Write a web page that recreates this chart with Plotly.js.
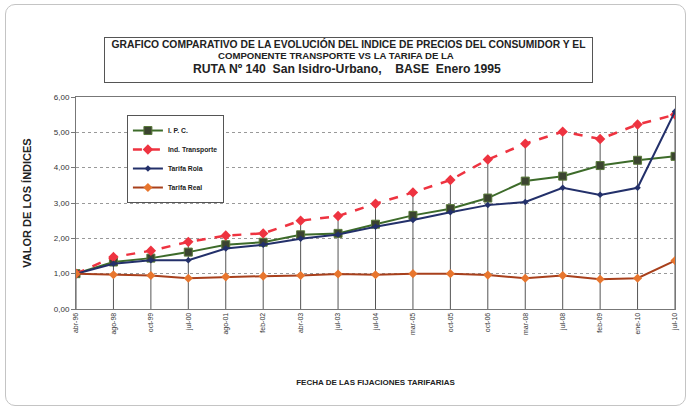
<!DOCTYPE html>
<html><head><meta charset="utf-8">
<script src="https://cdn.plot.ly/plotly-3.0.1.min.js"></script>
<style>
body{margin:0;background:#fff}
#wrap{position:relative;width:691px;height:411px}
#chart{width:691px;height:411px}
#frame{position:absolute;left:5px;top:4px;width:679px;height:400px;border:1px solid #c4c4c4;border-radius:10px;pointer-events:none}
#tbox{position:absolute;left:104px;top:37px;width:487px;height:44px;border:1px solid #555;pointer-events:none}
</style></head><body>
<div id="wrap"><div id="chart"></div><div id="frame"></div><div id="tbox"></div></div>
<script>
const fechas = ["abr-96","ago-98","oct-99","jul-00","ago-01","feb-02","abr-03","jul-03","jul-04","mar-05","oct-05","oct-06","mar-08","jul-08","feb-09","ene-10","jul-10"];
const ipc = [1.00,1.33,1.44,1.61,1.82,1.89,2.10,2.14,2.40,2.65,2.84,3.14,3.62,3.76,4.06,4.21,4.32];
const indTransporte = [1.00,1.47,1.65,1.90,2.08,2.14,2.50,2.63,2.98,3.30,3.65,4.23,4.68,5.02,4.81,5.22,5.50];
const tarifaRola = [1.00,1.28,1.38,1.38,1.71,1.82,1.99,2.11,2.33,2.52,2.74,2.94,3.03,3.43,3.23,3.43,5.59];
const tarifaReal = [1.00,0.97,0.95,0.87,0.91,0.93,0.95,0.99,0.97,1.00,1.00,0.96,0.87,0.95,0.84,0.87,1.37];
const yTicks = [0,1,2,3,4,5,6];
const titleLines = [
  "GRAFICO COMPARATIVO DE LA EVOLUCIÓN DEL INDICE DE PRECIOS DEL CONSUMIDOR Y EL",
  "COMPONENTE TRANSPORTE VS LA TARIFA DE LA",
  "RUTA Nº 140  San Isidro-Urbano,    BASE  Enero 1995"
];

// drop lines from axis to highest value of each date
const dx = [], dy = [];
fechas.forEach((f,i)=>{
  const m = Math.max(ipc[i], indTransporte[i], tarifaRola[i], tarifaReal[i]);
  dx.push(f,f,null); dy.push(0,m,null);
});

const font = "Liberation Sans, Arial, sans-serif";
const traces = [
  {x:dx,y:dy,mode:"lines",line:{color:"#555",width:1},showlegend:false,hoverinfo:"skip"},
  {x:fechas,y:ipc,name:"I. P. C.",mode:"lines+markers",line:{color:"#3d6b2a",width:2},
   marker:{symbol:"square",size:8,color:"#3b4430",line:{color:"#5a7a3a",width:1}}},
  {x:fechas,y:indTransporte,name:"Ind. Transporte",mode:"lines+markers",line:{color:"#ee3340",width:2.5,dash:"dash"},
   marker:{symbol:"diamond",size:8,color:"#ee3340"}},
  {x:fechas,y:tarifaRola,name:"Tarifa Rola",mode:"lines+markers",line:{color:"#23306a",width:2},
   marker:{symbol:"diamond",size:5,color:"#23306a"}},
  {x:fechas,y:tarifaReal,name:"Tarifa Real",mode:"lines+markers",line:{color:"#a8401c",width:2},
   marker:{symbol:"diamond",size:7,color:"#e8762e"}}
];

const layout = {
  width:691,height:411,
  margin:{l:76,r:16,t:97,b:102},
  paper_bgcolor:"#fff",plot_bgcolor:"#fff",
  separators:",.",
  font:{family:font,color:"#222"},
  title:{
    text:"<b>"+titleLines[0]+"</b>",
    font:{family:font,size:10.3,color:"#222"},
    x:0.455,xanchor:"center",xref:"paper",
    y:0.892,yanchor:"middle",yref:"container"
  },
  annotations:[
    {text:"<b>"+titleLines[1]+"</b>",xref:"paper",yref:"paper",x:0.434,y:1.198,xanchor:"center",yanchor:"middle",showarrow:false,borderpad:0,font:{family:font,size:9.6,color:"#222"}},
    {text:"<b>"+titleLines[2]+"</b>",xref:"paper",yref:"paper",x:0.453,y:1.132,xanchor:"center",yanchor:"middle",showarrow:false,borderpad:0,font:{family:font,size:12.2,color:"#222"}}
  ],
  xaxis:{
    type:"category",range:[0,16],
    showline:true,linecolor:"#777",linewidth:1,mirror:true,
    showgrid:false,ticks:"",tickangle:-90,
    tickfont:{size:7,color:"#333",family:font},
    title:{text:"<b>FECHA DE LAS FIJACIONES TARIFARIAS</b>",font:{size:8,color:"#222",family:font},standoff:45},
    automargin:false,fixedrange:true
  },
  yaxis:{
    range:[0,6],tickvals:yTicks,tickformat:".2f",
    showline:true,linecolor:"#777",linewidth:1,mirror:true,
    showgrid:true,gridcolor:"#999",griddash:"dot",gridwidth:1,
    ticks:"outside",ticklen:4,tickcolor:"#777",
    tickfont:{size:8,color:"#333",family:font},
    title:{text:"<b>VALOR DE LOS ÍNDICES</b>",font:{size:11,color:"#222",family:font},standoff:19},
    automargin:false,zeroline:false,fixedrange:true
  },
  legend:{
    x:0.085,y:0.915,xanchor:"left",yanchor:"top",
    bgcolor:"#fff",bordercolor:"#555",borderwidth:1,
    font:{size:6.8,family:font,color:"#222",weight:"bold"},
    itemwidth:30
  },
  showlegend:true
};
Plotly.newPlot("chart",traces,layout,{displayModeBar:false,staticPlot:true});
</script>
</body></html>
